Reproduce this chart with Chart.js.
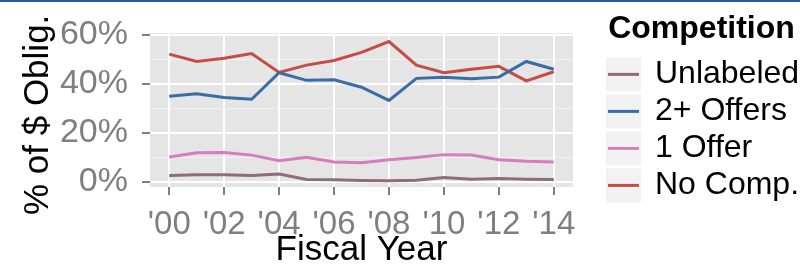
<!DOCTYPE html>
<html lang="en">
<head>
<meta charset="utf-8">
<title>Share of obligations by competition</title>
<script src="https://cdn.jsdelivr.net/npm/chart.js"></script>
<style>
  body { margin: 0; background: #fff; }
  #wrap { width: 800px; height: 270px; border-top: 2px solid #1f5ba6; }
</style>
</head>
<body>
<div id="wrap"><canvas id="chart" width="800" height="270"></canvas></div>
<script>
  // fiscal years and % of obligated dollars per competition type
  const years = [2000, 2001, 2002, 2003, 2004, 2005, 2006, 2007, 2008, 2009, 2010, 2011, 2012, 2013, 2014];
  const unlabeled = [2.7, 3.0, 3.0, 2.7, 3.3, 1.1, 1.0, 0.7, 0.5, 0.8, 1.9, 1.2, 1.5, 1.2, 1.1];
  const twoPlusOffers = [35.0, 36.0, 34.5, 33.8, 44.6, 41.5, 41.7, 38.7, 33.3, 42.3, 42.8, 42.1, 42.8, 49.2, 46.0];
  const oneOffer = [10.2, 12.0, 12.1, 11.0, 8.7, 10.1, 8.2, 7.9, 9.1, 10.0, 11.2, 11.0, 9.1, 8.5, 8.2];
  const noComp = [52.2, 49.2, 50.5, 52.4, 44.7, 47.7, 49.6, 52.9, 57.3, 47.7, 44.6, 46.0, 47.2, 41.3, 45.0];

  const seriesNames = ['Unlabeled', '2+ Offers', '1 Offer', 'No Comp.'];
  const seriesColors = ['#8e6c7a', '#3a6ca6', '#d67dbe', '#c64c48'];

  const yTickValues = [0, 20, 40, 60];
  const yTickLabels = ['0%', '20%', '40%', '60%'];
  const yMinorValues = [10, 30, 50];
  const xTickValues = [2000, 2002, 2004, 2006, 2008, 2010, 2012, 2014];
  const xTickLabels = ["'00", "'02", "'04", "'06", "'08", "'10", "'12", "'14"];

  const tickGrey = '#7f7f7f';

  // grey panel behind the grid + grey squares behind legend keys
  const panelBg = {
    id: 'panelBg',
    beforeDraw(chart) {
      const { ctx, chartArea: a } = chart;
      ctx.save();
      ctx.fillStyle = '#e5e5e5';
      ctx.fillRect(a.left, a.top, a.right - a.left, a.bottom - a.top);
      ctx.fillStyle = '#f2f2f2';
      (chart.legend.legendHitBoxes || []).forEach(hb => {
        ctx.fillRect(hb.left - 2, hb.top + hb.height / 2 - 17, 35, 34);
      });
      ctx.restore();
    }
  };

  const datasets = [unlabeled, twoPlusOffers, oneOffer, noComp].map((vals, i) => ({
    label: seriesNames[i],
    data: vals,
    borderColor: seriesColors[i],
    backgroundColor: seriesColors[i],
    borderWidth: 3,
    pointRadius: 0,
    tension: 0
  }));

  new Chart(document.getElementById('chart'), {
    type: 'line',
    data: { labels: years, datasets: datasets },
    plugins: [panelBg],
    options: {
      responsive: false,
      animation: false,
      devicePixelRatio: 1,
      layout: { padding: 0 },
      plugins: {
        tooltip: { enabled: false },
        legend: {
          position: 'right',
          align: 'start',
          maxWidth: 197,
          title: {
            display: true,
            text: 'Competition',
            color: '#000',
            font: { family: 'Liberation Sans', size: 32, weight: 'bold' },
            padding: { top: 11, bottom: 2 }
          },
          labels: {
            usePointStyle: true,
            pointStyle: 'line',
            pointStyleWidth: 31,
            color: '#000',
            font: { family: 'Liberation Sans', size: 32 },
            padding: 5
          }
        }
      },
      scales: {
        x: {
          type: 'linear',
          min: 1999.3,
          max: 2014.7,
          afterBuildTicks: s => { s.ticks = xTickValues.map(v => ({ value: v })); },
          afterFit: s => { s.height = 85; s.paddingLeft = 0; s.paddingRight = 0; },
          border: { display: false },
          grid: { color: '#fff', lineWidth: 2, tickColor: tickGrey, tickLength: 8, tickWidth: 2 },
          ticks: {
            autoSkip: false,
            maxRotation: 0,
            color: tickGrey,
            padding: 13,
            font: { family: 'Liberation Sans', size: 33, lineHeight: 1 },
            callback: v => xTickLabels[xTickValues.indexOf(v)]
          },
          title: {
            display: true,
            text: 'Fiscal Year',
            color: '#000',
            padding: { top: 0, bottom: 4 },
            font: { family: 'Liberation Sans', size: 35, lineHeight: 1 }
          }
        },
        y: {
          min: -2,
          max: 60.8,
          afterBuildTicks: s => {
            s.ticks = yTickValues.concat(yMinorValues).sort((a, b) => a - b).map(v => ({ value: v }));
          },
          afterFit: s => { s.width = 150; s.paddingTop = 31; s.paddingBottom = 0; },
          border: { display: false },
          grid: {
            color: c => yTickValues.includes(c.tick.value) ? '#fff' : '#f2f2f2',
            lineWidth: c => yTickValues.includes(c.tick.value) ? 2 : 1,
            tickColor: c => yTickValues.includes(c.tick.value) ? tickGrey : 'rgba(0,0,0,0)',
            tickLength: 8,
            tickWidth: 2
          },
          ticks: {
            autoSkip: false,
            color: tickGrey,
            padding: 14,
            font: { family: 'Liberation Sans', size: 34, lineHeight: 1 },
            callback: v => {
              const i = yTickValues.indexOf(v);
              return i < 0 ? '' : yTickLabels[i];
            }
          },
          title: {
            display: true,
            text: '% of $ Oblig. ',
            color: '#000',
            padding: { top: 21, bottom: 5 },
            font: { family: 'Liberation Sans', size: 35, lineHeight: 1 }
          }
        },
        // hidden spacer between the panel and the legend
        gap: {
          position: 'right',
          display: false,
          afterFit: s => { s.width = 30; }
        }
      }
    }
  });
</script>
</body>
</html>
